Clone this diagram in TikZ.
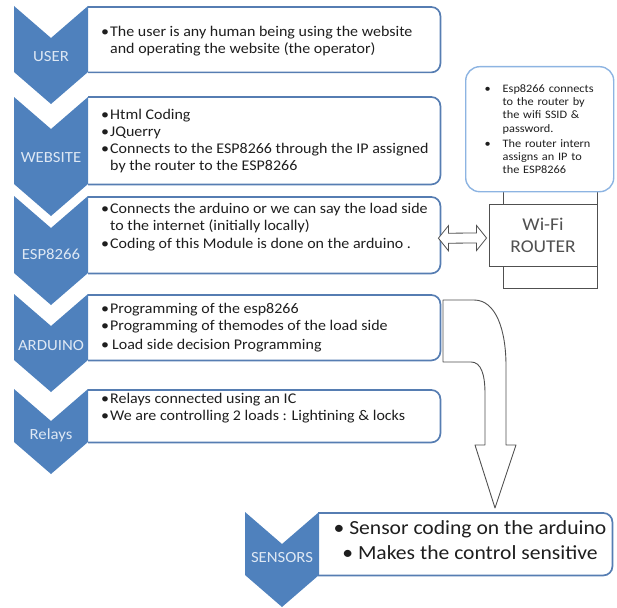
\documentclass[tikz,border=0pt]{standalone}
\usepackage{fontspec}
\setmainfont{Carlito}[FakeStretch=1.08]
\usetikzlibrary{arrows.meta,positioning,calc}
\definecolor{chevblue}{RGB}{79,129,189}
\definecolor{chevtext}{RGB}{222,232,244}
\definecolor{frameblue}{RGB}{86,125,178}
\definecolor{calloutblue}{RGB}{141,180,226}
\definecolor{inkgray}{RGB}{30,30,30}
\definecolor{linegray}{RGB}{80,80,80}
\newcommand{\bul}[1][9pt]{\makebox[#1][l]{\textbullet}}

\begin{document}
\begin{tikzpicture}[x=1pt, y=-1pt,
			frame/.style={inner sep=0pt, anchor=north west, minimum width=352pt},
			frameline/.style={draw=frameblue, line width=1.7pt, rounded corners=9pt},
			chevlab/.style={text=chevtext, font=\fontsize{15.5}{18}\selectfont},
			body/.style={text=inkgray, inner sep=0pt, anchor=west, align=left,
				font=\fontsize{14.8}{17}\selectfont},
			callout/.style={draw=calloutblue, line width=1.4pt, fill=white, rounded corners=14pt,
				anchor=north west, text width=110pt, inner xsep=19pt, minimum height=125pt,
				align=left, text=inkgray, font=\fontsize{11.4}{13.2}\selectfont},
			routerbox/.style={draw=linegray, line width=0.9pt, fill=white, minimum width=108pt,
				minimum height=62pt, align=center, text=linegray, font=\fontsize{18}{22}\selectfont},
			dblarrow/.style={draw=linegray, line width=0.8pt, fill=white, line join=miter},
			bendarrow/.style={draw=linegray, line width=0.9pt, fill=white, line join=round}
		]
			\useasboundingbox (0,0) rectangle (617,607);
			% frames of the list
			\node[frame, minimum height=65pt] (userF) at (88,7) {};
			\node[frame, minimum height=87pt] (webF) at (88,97) {};
			\node[frame, minimum height=76pt] (espF) at (88,197) {};
			\node[frame, minimum height=65pt] (ardF) at (88,295) {};
			\node[frame, minimum height=52pt] (relF) at (88,390) {};
			\node[frame, minimum width=294pt, minimum height=62pt] (senF) at (318,513) {};
			\foreach \f in {userF,webF,espF,ardF,relF,senF}
				\draw[frameline] (\f.south west) -- (\f.south east) -- (\f.north east) -- (\f.north west);
			% chevrons
			\foreach \cx/\ya/\yb in {51/6/72, 51/97/184, 51/196/273, 51/294/360, 51/389/442, 282/512/575}
				\fill[chevblue] (\cx-37,\ya) -- (\cx,\ya+32) -- (\cx+37,\ya) -- (\cx+37,\yb)
					-- (\cx,\yb+32) -- (\cx-37,\yb) -- cycle;
			\node[chevlab] (userL) at (51,57) {USER};
			\node[chevlab] (webL) at (51,158) {WEBSITE};
			\node[chevlab] (espL) at (51,254) {ESP8266};
			\node[chevlab] (ardL) at (51,346) {ARDUINO};
			\node[chevlab] (relL) at (51,435) {Relays};
			\node[chevlab] (senL) at (282,558) {SENSORS};
			% texts
			\node[body] (userT) at (101,41.5) {\bul The user is any human being using the website\\
				\hspace*{9pt}and operating the website (the operator)};
			\node[body] (webT) at (101,141.5) {\bul Html Coding\\ \bul JQuerry\\
				\bul Connects to the ESP8266 through the IP assigned\\
				\hspace*{9pt}by the router to the ESP8266};
			\node[body] (espT) at (101,227) {\bul Connects the arduino or we can say the load side\\
				\hspace*{9pt}to the internet (initially locally)\\[1pt]
				\bul Coding of this Module is done on the arduino .};
			\node[body] (ardT) at (101,328) {\bul Programming of the esp8266\\
				\bul Programming of themodes of the load side\\[2pt]
				\bul\hspace{2pt}Load side decision Programming};
			\node[body] (relT) at (101,408) {\bul Relays connected using an IC\\
				\bul We are controlling 2 loads : Lightining \& locks};
			\node[body, anchor=center, align=center, font=\fontsize{20}{25}\selectfont] (senT) at (470,540)
				{\textbullet{} Sensor coding on the arduino\\ \textbullet{} Makes the control sensitive};
			% router and its note
			\draw[draw=linegray, line width=0.9pt] (503,150) rectangle (597,288);
			\node[callout] (note) at (465,66) {\bul[18pt]Esp8266 connects\\ \hspace*{18pt}to the router by\\
				\hspace*{18pt}the wifi SSID \&\\ \hspace*{18pt}password.\\[2pt]
				\bul[18pt]The router intern\\ \hspace*{18pt}assigns an IP to\\ \hspace*{18pt}the ESP8266};
			\node[routerbox] (router) at (543,235) {Wi-Fi\\ROUTER};
			% hollow double arrow between ESP8266 and the router
			\coordinate (dl) at ($([yshift=-3pt]espF.east)+(-2,0)$);
			\coordinate (dr) at ($([yshift=-3pt]router.west)+(-2,0)$);
			\draw[dblarrow] (dl) -- ++(10,-12.5) -- ++(0,7.5) -- ($(dr)+(-10,-5)$) -- ++(0,-7.5)
				-- (dr) -- ++(-10,12.5) -- ++(0,-7.5) -- ($(dl)+(10,5)$) -- ++(0,7.5) -- cycle;
			% bent arrow to the sensors
			\draw[bendarrow] (443,300) -- (474,300) .. controls (496,300) and (506,330) .. (506,366)
				-- (506,445) -- (516,445) -- (495,508) -- (475,445) -- (485,445) -- (485,394)
				.. controls (485,374) and (481,362) .. (471,362) -- (443,362) -- cycle;
		\end{tikzpicture}
\end{document}
